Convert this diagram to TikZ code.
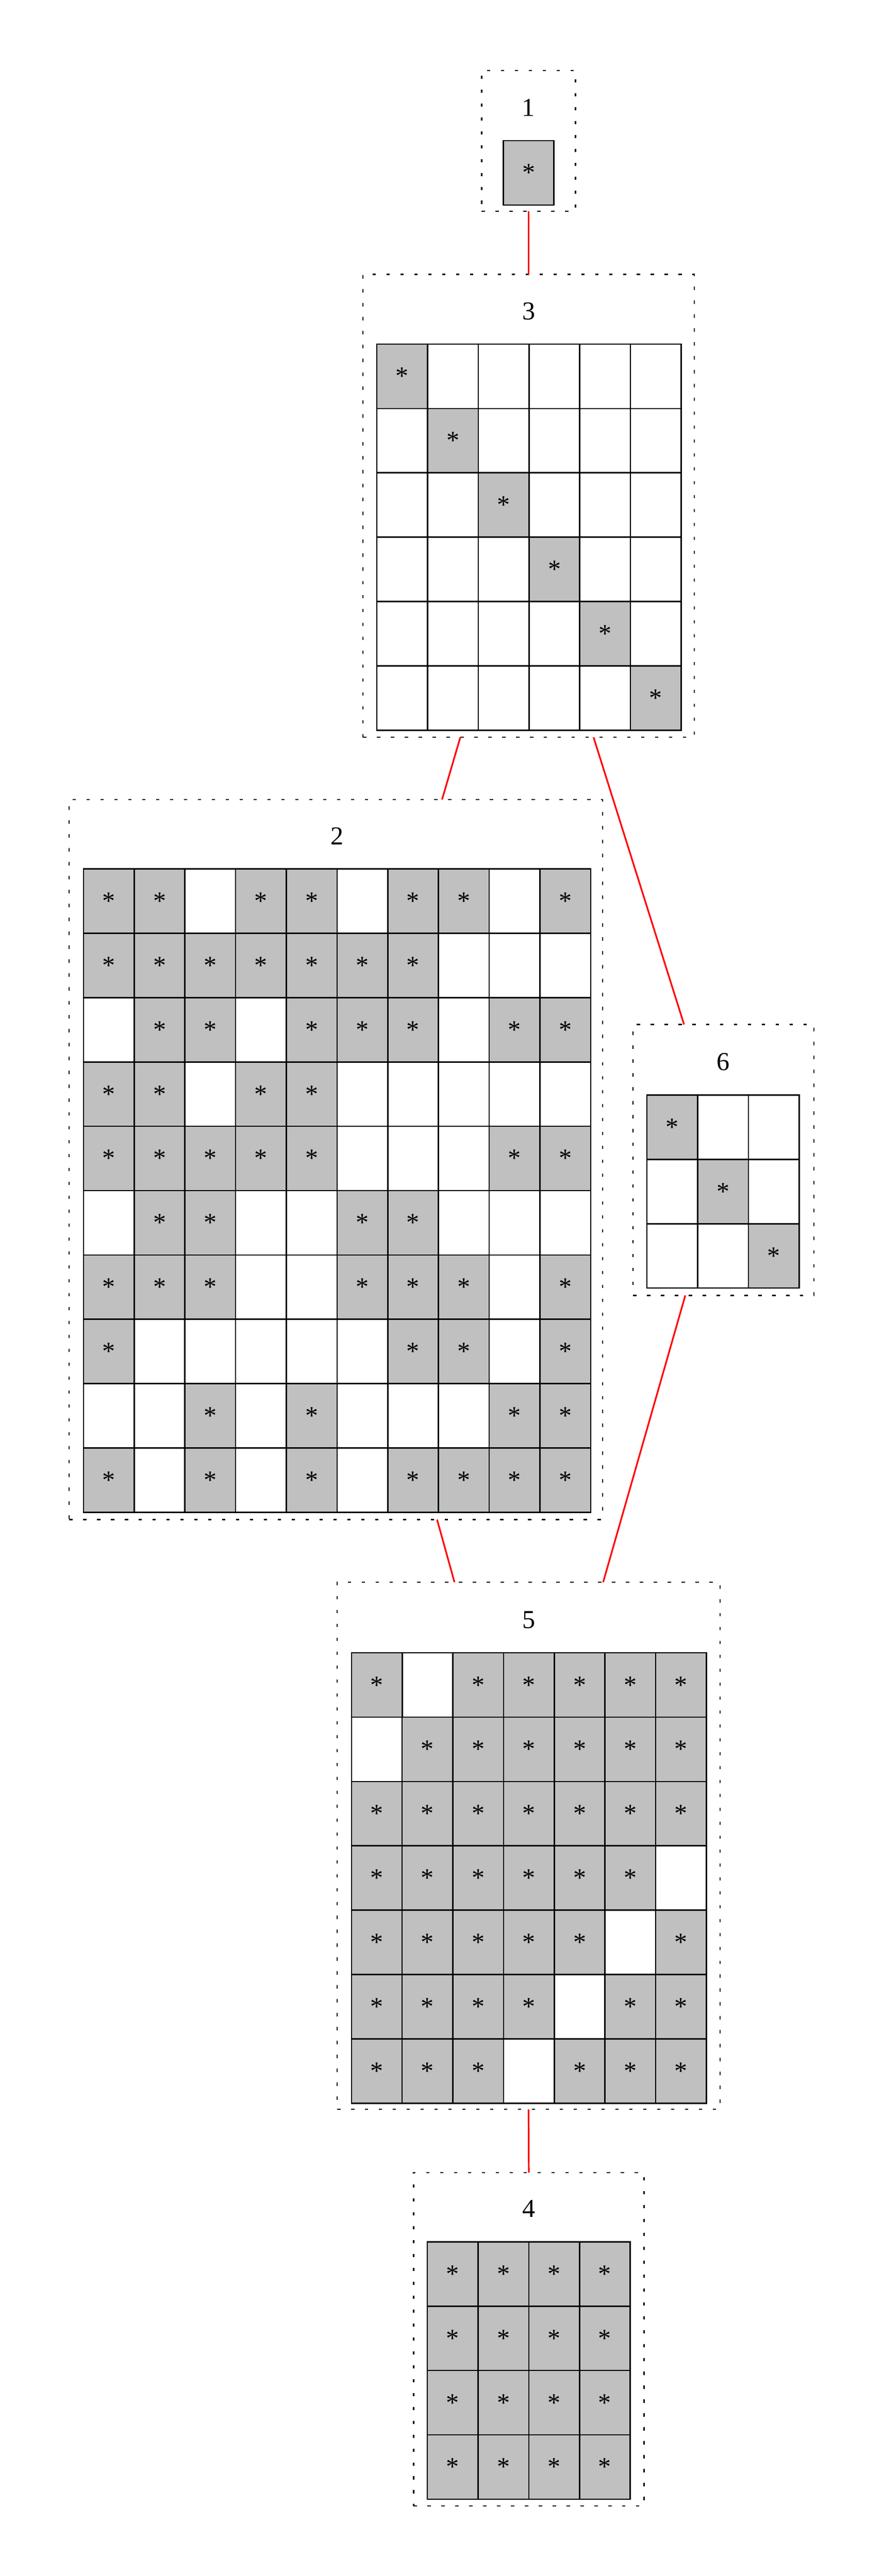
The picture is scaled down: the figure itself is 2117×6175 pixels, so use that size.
\documentclass[tikz,border=0pt]{standalone}
\usepackage{fontspec}
\setmainfont{Liberation Serif}
\definecolor{cellgray}{RGB}{192,192,192}
% one grid of cells: name, left, top, rows of 0/1
\newcommand{\matgrid}[4]{%
  \foreach \rowlist [count=\i] in {#4} {
    \foreach \v [count=\j] in \rowlist {
      \ifnum\v=1
        \node[cell,fill=cellgray] (#1-\i-\j) at (#2+121.5*\j-121.5,#3+154.2*\i-154.2) {*};
      \else
        \node[cell] (#1-\i-\j) at (#2+121.5*\j-121.5,#3+154.2*\i-154.2) {};
      \fi
    }
  }
}
\begin{document}
\begin{tikzpicture}[x=0.01cm,y=-0.01cm,inner sep=0pt,outer sep=0pt,
node font=\fontsize{17.6}{21}\selectfont,
cell/.style={draw,line width=0.9pt,anchor=north west,minimum width=1.215cm,minimum height=1.542cm},
clusterbox/.style={draw,line width=0.85pt,dash pattern=on 0.08cm off 0.253cm},
link/.style={draw=red,line width=1.13pt}]
\useasboundingbox (0,0) rectangle (2117,6175);

\node[clusterbox,minimum width=2.25cm,minimum height=3.37cm] (c1) at (1266.5,337.5) {};
\node (l1) at (1266.5,258) {1};
\matgrid{m1}{1205.75}{337}{{1}}

\node[clusterbox,minimum width=7.93cm,minimum height=11.09cm] (c3) at (1266.5,1212.5) {};
\node (l3) at (1267.5,746) {3};
\matgrid{m3}{903}{825}{{1,0,0,0,0,0},{0,1,0,0,0,0},{0,0,1,0,0,0},{0,0,0,1,0,0},{0,0,0,0,1,0},{0,0,0,0,0,1}}

\node[clusterbox,minimum width=12.77cm,minimum height=17.25cm] (c2) at (804.5,2779.5) {};
\node (l2) at (807.5,2004) {2};
\matgrid{m2}{200}{2083}{{1,1,0,1,1,0,1,1,0,1},{1,1,1,1,1,1,1,0,0,0},{0,1,1,0,1,1,1,0,1,1},{1,1,0,1,1,0,0,0,0,0},{1,1,1,1,1,0,0,0,1,1},{0,1,1,0,0,1,1,0,0,0},{1,1,1,0,0,1,1,1,0,1},{1,0,0,0,0,0,1,1,0,1},{0,0,1,0,1,0,0,0,1,1},{1,0,1,0,1,0,1,1,1,1}}

\node[clusterbox,minimum width=4.33cm,minimum height=6.49cm] (c6) at (1733.5,2780.5) {};
\node (l6) at (1732.5,2546) {6};
\matgrid{m6}{1550}{2625}{{1,0,0},{0,1,0},{0,0,1}}

\node[clusterbox,minimum width=9.17cm,minimum height=12.63cm] (c5) at (1266.5,4424.5) {};
\node (l5) at (1267,3883) {5};
\matgrid{m5}{842}{3962}{{1,0,1,1,1,1,1},{0,1,1,1,1,1,1},{1,1,1,1,1,1,1},{1,1,1,1,1,1,0},{1,1,1,1,1,0,1},{1,1,1,1,0,1,1},{1,1,1,0,1,1,1}}

\node[clusterbox,minimum width=5.52cm,minimum height=7.99cm] (c4) at (1267,5607.5) {};
\node (l4) at (1267,5295) {4};
\matgrid{m4}{1024}{5374}{{1,1,1,1},{1,1,1,1},{1,1,1,1},{1,1,1,1}}

\draw[link] (c1.south) -- (c3.north);
\draw[link] ([xshift=-1.635cm]c3.south) -- ([xshift=2.545cm]c2.north);
\draw[link] ([xshift=1.555cm]c3.south) -- ([xshift=-0.945cm]c6.north);
\draw[link] ([xshift=2.425cm]c2.south) -- ([xshift=-1.775cm]c5.north);
\draw[link] ([xshift=-0.915cm]c6.south) -- ([xshift=1.785cm]c5.north);
\draw[link] (c5.south) -- (c4.north);
\end{tikzpicture}
\end{document}
